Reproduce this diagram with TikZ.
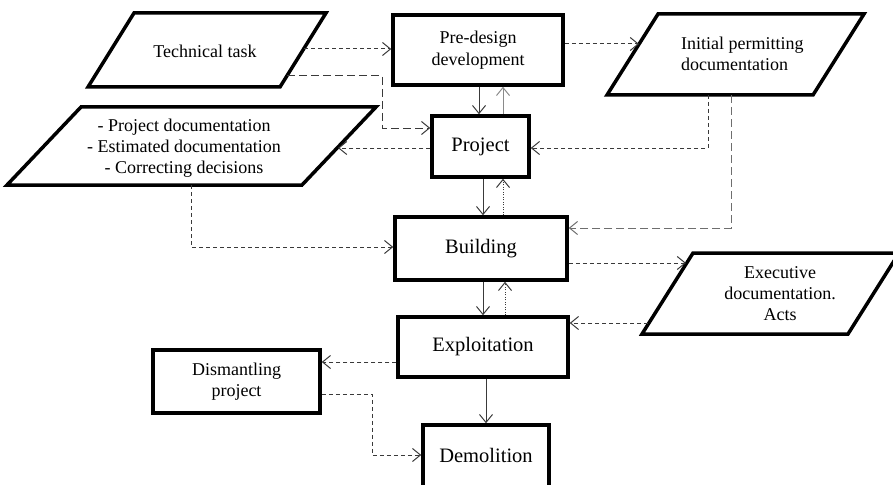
\documentclass[tikz,border=0pt]{standalone}
\usepackage{fontspec}
\setmainfont{Liberation Serif}
\usetikzlibrary{arrows.meta}
\definecolor{ink}{HTML}{3A3A3A}
\definecolor{lgray}{HTML}{8A8A8A}
\definecolor{mgray}{HTML}{6E6E6E}
\tikzset{
  boxnode/.style={draw=black, line width=3.5pt, rectangle, inner sep=0pt, align=center,
    font=\fontsize{20.5}{23}\selectfont},
  smalltxt/.style={inner sep=0pt, align=center, font=\fontsize{18}{21}\selectfont},
  paraline/.style={draw=black, line width=3.5pt, line join=miter},
  conn/.style={line width=1pt, color=ink, -{Straight Barb[length=8pt,width=13pt]}},
  shortdash/.style={dash pattern=on 4pt off 3pt},
  longdash/.style={dash pattern=on 8pt off 4pt},
  dotline/.style={dash pattern=on 1pt off 1.5pt},
}
\begin{document}
\begin{tikzpicture}[x=1pt,y=-1pt]
\useasboundingbox (0,0) rectangle (893,484);
\fill[white] (0,0) rectangle (893,484);

% rectangular boxes
\node[boxnode, minimum width=170pt, minimum height=70pt] (pd) at (478,50) {\fontsize{18}{21}\selectfont Pre-design\\[-1pt]\fontsize{18}{21}\selectfont development};
\node[boxnode, minimum width=97pt, minimum height=61pt] (pj) at (480.5,146.5) {Project};
\node[boxnode, minimum width=172pt, minimum height=63pt] (bd) at (481,248.5) {Building};
\node[boxnode, minimum width=170pt, minimum height=60pt] (ex) at (483,347) {Exploitation};
\node[boxnode, minimum width=167pt, minimum height=63pt, font=\fontsize{18}{21}\selectfont] (dm) at (236.5,381.5) {Dismantling\\project};
\node[boxnode, minimum width=126pt, minimum height=66pt] (demo) at (486,458) {};
\node[inner sep=0pt, font=\fontsize{20.5}{23}\selectfont] (demot) at (486,455) {Demolition};

% parallelograms
\draw[paraline] (134,13) coordinate (ttA) -- (326,13) -- (280,87) -- (88,87) -- cycle;
\node[smalltxt] (tt) at (205,51) {Technical task};

\draw[paraline] (81,107) -- (376,107) -- (302,185) -- (7,185) -- cycle;
\node[smalltxt] (doc) at (184,148) {- Project documentation\\- Estimated documentation\\- Correcting decisions};

\draw[paraline] (658,14) -- (864,14) -- (813,95) -- (607,95) -- cycle;
\node[smalltxt, align=left, anchor=west] (ip) at (681,54) {Initial permitting\\documentation};

\draw[paraline] (693,253) -- (899,253) -- (848,334) -- (642,334) -- cycle;
\node[smalltxt] (exd) at (780,294) {Executive\\documentation.\\Acts};

% connector end points on the parallelograms
\coordinate (ttR1) at (304,49);
\coordinate (ttR2) at (287,76);
\coordinate (docR) at (338,148);
\coordinate (docB) at (191,185);
\coordinate (ipL) at (639,44);
\coordinate (ipB1) at (708,95);
\coordinate (ipB2) at (731,95);
\coordinate (exdL1) at (686,263);
\coordinate (exdL2) at (648,323);

% connectors
\draw[conn, shortdash] (ttR1) -- (ttR1 -| pd.west);
\draw[conn, longdash] (ttR2) -- (382,76) -- (382,128) -- (pj.west |- 0,128);
\draw[conn, shortdash] (pj.west |- docR) -- (docR);
\draw[conn, shortdash] (pd.east |- ipL) -- (ipL);
\draw[conn] (pd.south -| 479,0) -- (pj.north -| 479,0);
\draw[conn, color=lgray] (pj.north -| 503,0) -- (pd.south -| 503,0);
\draw[conn, shortdash] (ipB1) -- (708,148) -- (pj.east |- 0,148);
\draw[conn, longdash, color=mgray] (ipB2) -- (731,228) -- (bd.east |- 0,228);
\draw[conn] (pj.south -| 483,0) -- (bd.north -| 483,0);
\draw[conn, dotline] (bd.north -| 503,0) -- (pj.south -| 503,0);
\draw[conn, shortdash] (docB) -- (191,247) -- (bd.west |- 0,247);
\draw[conn, shortdash] (bd.east |- exdL1) -- (exdL1);
\draw[conn, shortdash] (exdL2) -- (ex.east |- exdL2);
\draw[conn] (bd.south -| 483,0) -- (ex.north -| 483,0);
\draw[conn, dotline] (ex.north -| 505,0) -- (bd.south -| 505,0);
\draw[conn, shortdash] (ex.west |- 0,362) -- (dm.east |- 0,362);
\draw[conn] (ex.south -| 486,0) -- (demo.north -| 486,0);
\draw[conn, shortdash] (dm.east |- 0,394) -- (372,394) -- (372,455) -- (demo.west |- 0,455);
\end{tikzpicture}
\end{document}
